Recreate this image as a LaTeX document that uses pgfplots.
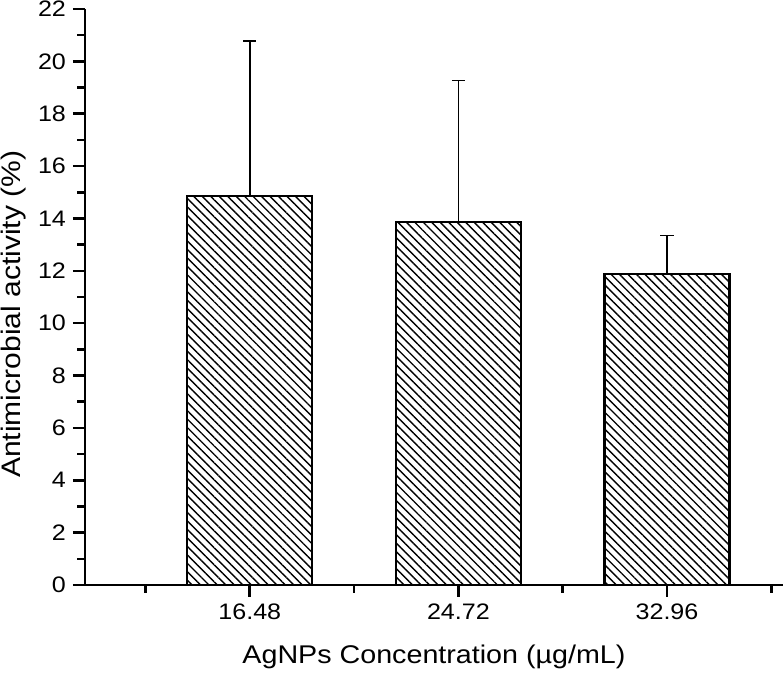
\documentclass[border=0pt]{standalone}
\usepackage{fontspec}
\setmainfont{Liberation Sans}[FakeStretch=1.12]
\usepackage{pgfplots}
\pgfplotsset{compat=1.18}
\usetikzlibrary{patterns.meta}
\newcommand{\tickfont}{\fontsize{11.2}{13}\selectfont}

\begin{document}
\begin{tikzpicture}
\begin{axis}[
    scale only axis,
    width=349pt, height=288pt,
    xmin=0.21, xmax=3.556,
    ymin=0, ymax=22,
    axis x line=bottom, axis y line=left,
    axis line style={-, line width=1.3pt},
    tick style={line width=1.3pt, black},
    tick align=outside,
    major tick length=6pt, minor tick length=3.8pt,
    xtick={1,2,3},
    xticklabels={16.48,24.72,32.96},
    minor xtick={0.5,1.5,2.5,3.5},
    ytick={0,2,...,22},
    minor y tick num=1,
    /pgf/number format/assume math mode=true,
    tick label style={font=\tickfont},
    xlabel={AgNPs Concentration (µg/mL)},
    ylabel={Antimicrobial activity (\%)},
    xlabel style={font=\fontsize{12.8}{15}\selectfont,
        at={(axis description cs:0.5,0)}, anchor=base, yshift=-39.5pt},
    ylabel style={font=\fontsize{13.4}{15}\selectfont,
        at={([xshift=-32pt]axis description cs:0,0.47)}, anchor=base},
    ybar, bar width=0.6,
    clip=false,
]
\addplot[draw=black, line width=1.1pt,
    pattern={Lines[angle=-45, distance=3pt, line width=0.7pt]},
    error bars/.cd, y dir=plus, y explicit,
    error bar style={line width=0.9pt, black},
    error mark options={rotate=90, mark size=3.3pt, line width=0.9pt, black}]
    coordinates {
    (1,14.85) +- (0,5.93)
    (2,13.86) +- (0,5.41)
    (3,11.87) +- (0,1.48)
    };
\end{axis}
\pgfresetboundingbox
\path[use as bounding box] (-42.5pt,-44pt) rectangle (349.5pt,292.5pt);
\end{tikzpicture}
\end{document}
